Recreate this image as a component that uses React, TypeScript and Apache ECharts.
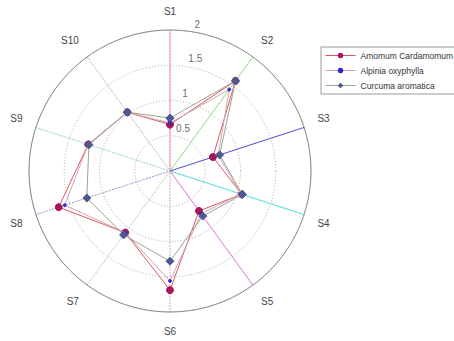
import React, { useEffect, useRef } from "react";
import * as echarts from "echarts";

// Sample axes (clockwise from the top)
const categories = ["S1", "S2", "S3", "S4", "S5", "S6", "S7", "S8", "S9", "S10"];
// Radial ticks
const radiusTicks = [0.5, 1, 1.5, 2];

const amomum = [0.66, 1.58, 0.64, 1.07, 0.7, 1.69, 1.08, 1.66, 1.22, 1.03];
const alpinia = [0.68, 1.43, 0.72, 1.06, 0.75, 1.56, 1.08, 1.57, 1.22, 1.03];
const curcuma = [0.75, 1.58, 0.74, 1.08, 0.79, 1.28, 1.12, 1.24, 1.21, 1.03];

const seriesNames = ["Amomum Cardamomum", "Alpinia oxyphylla", "Curcuma aromatica"];

// Highlighted diameters: first half solid, opposite half dotted
const spokeColors = ["#ff8c8c", "#8ee68e", "#5656dc", "#56e4e4", "#e47ee4"];

const STEP = 360 / categories.length;
const RMAX = 2;

// Closed polygon in [radius, angle] pairs
const closed = (vals: number[]) => {
  const pts = vals.map((v, i) => [v, i * STEP]);
  pts.push([vals[0], 360]);
  return pts;
};

export default function App() {
  const ref = useRef<HTMLDivElement>(null);

  useEffect(() => {
    if (!ref.current) return;
    const chart = echarts.init(ref.current, undefined, { renderer: "svg" });

    const spokeSeries: any[] = [];
    spokeColors.forEach((c, i) => {
      spokeSeries.push({
        type: "line",
        coordinateSystem: "polar",
        silent: true,
        symbol: "none",
        z: 1,
        lineStyle: { color: c, width: 1, type: "solid" },
        data: [
          [0, i * STEP],
          [RMAX, i * STEP],
        ],
      });
      spokeSeries.push({
        type: "line",
        coordinateSystem: "polar",
        silent: true,
        symbol: "none",
        z: 1,
        lineStyle: { color: c, width: 1, type: [1, 2], opacity: 0.8 },
        data: [
          [0, (i + 5) * STEP],
          [RMAX, (i + 5) * STEP],
        ],
      });
    });

    const option: any = {
      animation: false,
      backgroundColor: "#ffffff",
      textStyle: { fontFamily: "Liberation Sans, Arial, sans-serif" },
      polar: { center: [170, 171], radius: 141 },
      angleAxis: {
        type: "value",
        min: 0,
        max: 360,
        interval: STEP,
        startAngle: 90,
        clockwise: true,
        axisLine: { lineStyle: { color: "#8a8a8a", width: 1 } },
        axisTick: { show: false },
        axisLabel: {
          margin: 14,
          color: "#444",
          fontSize: 10,
          formatter: (v: number) => (v >= 360 ? "" : categories[Math.round(v / STEP)]),
        },
        splitLine: { lineStyle: { color: "#b0b0b0", type: [1, 2], width: 1 } },
      },
      radiusAxis: {
        min: 0,
        max: RMAX,
        interval: 0.5,
        axisLine: { show: false },
        axisTick: { show: false },
        axisLabel: { show: false },
        splitLine: { lineStyle: { color: "#a8a8a8", type: [1, 2], width: 1 } },
      },
      legend: {
        data: seriesNames,
        orient: "vertical",
        left: 321,
        top: 47,
        padding: [4, 4, 4, 4],
        itemWidth: 30,
        itemHeight: 7,
        itemGap: 6,
        borderColor: "#9a9a9a",
        borderWidth: 1,
        backgroundColor: "#fff",
        lineStyle: { width: 1 },
        textStyle: { fontSize: 8.5, color: "#333" },
      },
      series: [
        ...spokeSeries,
        {
          type: "scatter",
          coordinateSystem: "polar",
          silent: true,
          symbolSize: 0,
          z: 2,
          data: radiusTicks.map((t) => [t, 10]),
          label: {
            show: true,
            position: "right",
            distance: 0,
            offset: [0, -8],
            color: "#444",
            fontSize: 10,
            formatter: (p: any) => String(p.value[0]),
          },
        },
        {
          name: seriesNames[0],
          type: "line",
          coordinateSystem: "polar",
          z: 3,
          symbol: "circle",
          symbolSize: 7,
          lineStyle: { color: "#d85a5a", width: 1 },
          itemStyle: { color: "#a8175a", borderColor: "#a8175a" },
          data: closed(amomum),
        },
        {
          name: seriesNames[1],
          type: "line",
          coordinateSystem: "polar",
          z: 4,
          symbol: "circle",
          symbolSize: 3,
          lineStyle: { color: "#d4a2b4", width: 1 },
          itemStyle: { color: "#2a2ad4", borderColor: "#2a2ad4" },
          data: closed(alpinia),
        },
        {
          name: seriesNames[2],
          type: "line",
          coordinateSystem: "polar",
          z: 5,
          symbol: "diamond",
          symbolSize: 8,
          lineStyle: { color: "#9ca394", width: 1 },
          itemStyle: { color: "#4c5a92", borderColor: "#4c5a92" },
          data: closed(curcuma),
        },
      ],
    };

    chart.setOption(option);
    return () => chart.dispose();
  }, []);

  return (
    <div
      ref={ref}
      style={{ position: "fixed", left: 0, top: 0, width: 454, height: 341, background: "#fff" }}
    />
  );
}
